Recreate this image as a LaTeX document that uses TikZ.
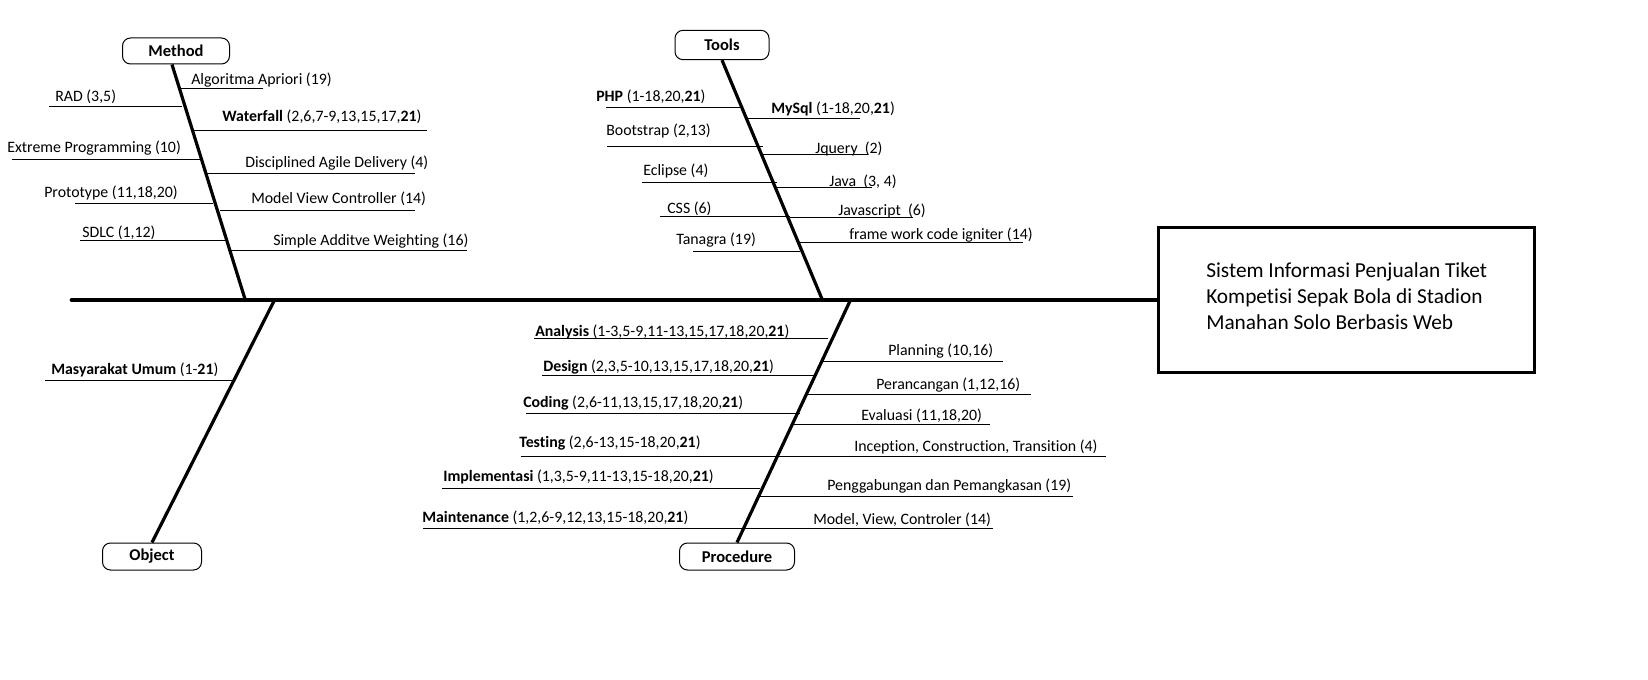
\documentclass[tikz,border=0pt]{standalone}
\usepackage{fontspec}
\setmainfont{Carlito}[Ligatures=CommonOff]
\usepackage{tikz}
\usetikzlibrary{positioning}
\tikzset{px/.style={x=0.75pt, y=-0.75pt}}
\tikzset{spine/.style={draw, line width=3.6pt, line cap=round}}
\tikzset{bone/.style={draw, line width=2.4pt}}
\tikzset{twig/.style={draw, line width=0.75pt}}
\tikzset{cause/.style={draw, rounded corners=6pt, line width=0.75pt, inner sep=0pt, font=\fontsize{12.4}{14}\selectfont\bfseries}}
\tikzset{lbl/.style={anchor=base west, inner sep=0pt, font=\fontsize{11.9}{14}\selectfont}}
\tikzset{effect/.style={draw, line width=2.25pt, inner xsep=0pt, inner ysep=0pt, minimum width=282pt, minimum height=108.75pt}}
\tikzset{effecttext/.style={anchor=west, inner sep=0pt, align=left, font=\fontsize{16}{19.3}\selectfont}}

\begin{document}
\begin{tikzpicture}[px]
\useasboundingbox (0,0) rectangle (1648,680);
%
\node[effect] (E) at (1346,300) {};
\node[effecttext] (Etext) at (1206,296) {Sistem Informasi Penjualan Tiket\\Kompetisi Sepak Bola di Stadion\\Manahan Solo Berbasis Web};
\coordinate (tail) at (72,300);
\draw[spine] (tail) -- (E.west);
%
\node[cause, minimum width=80.25pt, minimum height=19.5pt] (M) at (176,51) {Method};
\node[cause, minimum width=70.5pt, minimum height=22pt] (T) at (722,45) {Tools};
\node[cause, minimum width=86.25pt, minimum height=20.25pt] (P) at (737,556.5) {Procedure};
\node[cause, minimum width=74.25pt, minimum height=20.25pt] (O) at (152,556.5) {Object};
%
\coordinate (Mj) at (245,299);
\coordinate (Tj) at (822,299);
\coordinate (Pj) at (850,301);
\coordinate (Oj) at (274,301);
\draw[bone] ([xshift=-3pt]M.south) -- (Mj);
\draw[bone] (T.south) -- (Tj);
\draw[bone] (P.north) -- (Pj);
\draw[bone] (O.north) -- (Oj);
%
\foreach \a/\b/\y/\tx/\ty/\t [count=\i] in {
    180/263/89/191/85/{Algoritma Apriori (19)},
    49/182/107/55/102/{RAD (3,5)},
    193/427/131/222/122/{\textbf{Waterfall} (2,6,7-9,13,15,17,\textbf{21})},
    12/200/160/7/153/{Extreme Programming (10)},
    207/415/174/245/168/{Disciplined Agile Delivery (4)},
    75/213/204/44/198/{Prototype (11,18,20)},
    220/415/211/251/204/{Model View Controller (14)},
    80/227/241/82/238/{SDLC (1,12)},
    228/467/251/273/246/{Simple Additve Weighting (16)}}{
    \draw[twig] (\a,\y) -- (\b,\y);
    \node[lbl] (m\i) at (\tx,\ty) {\t};
}
%
\foreach \a/\b/\y/\tx/\ty/\t [count=\i] in {
    606/741/108/596/102/{\textbf{PHP} (1-18,20,\textbf{21})},
    746/860/119/771/114/{\textbf{MySql} (1-18,20,\textbf{21})},
    607/763/147/606/136/{Bootstrap (2,13)},
    763/868/155/815/154/{Jquery\ \ (2)},
    642/777/183/643/176/{Eclipse (4)},
    777/872/188/829/187/{Java\ \ (3, 4)},
    660/790/217/667/214/{CSS (6)},
    790/913/218/838/216/{Javascript\ \ (6)},
    693/800/252/676/245/{Tanagra (19)},
    800/1023/243/849/240/{frame work code igniter (14)}}{
    \draw[twig] (\a,\y) -- (\b,\y);
    \node[lbl] (t\i) at (\tx,\ty) {\t};
}
%
\foreach \a/\b/\y/\tx/\ty/\t [count=\i] in {
    534/828/339/535/337/{\textbf{Analysis} (1-3,5-9,11-13,15,17,18,20,\textbf{21})},
    542/815/376/543/372/{\textbf{Design} (2,3,5-10,13,15,17,18,20,\textbf{21})},
    526/800/414/523/408/{\textbf{Coding} (2,6-11,13,15,17,18,20,\textbf{21})},
    521/1106/456/519/448/{\textbf{Testing} (2,6-13,15-18,20,\textbf{21})},
    442/760/488/443/481/{\textbf{Implementasi} (1,3,5-9,11-13,15-18,20,\textbf{21})},
    423/993/528/422/522/{\textbf{Maintenance} (1,2,6-9,12,13,15-18,20,\textbf{21})},
    822/1003/362/888/356/{Planning (10,16)},
    807/1031/395/876/390/{Perancangan (1,12,16)},
    793/990/425/861/421/{Evaluasi (11,18,20)},
    758/1073/496/827/490/{Penggabungan dan Pemangkasan (19)}}{
    \draw[twig] (\a,\y) -- (\b,\y);
    \node[lbl] (p\i) at (\tx,\ty) {\t};
}
\node[lbl] (p11) at (854,451) {Inception, Construction, Transition (4)};
\node[lbl] (p12) at (813,524) {Model, View, Controler (14)};
%
\draw[twig] (45,381) -- (233,381);
\node[lbl] (o1) at (51,375) {\textbf{Masyarakat Umum} (1-\textbf{21})};
%
\end{tikzpicture}
\end{document}
